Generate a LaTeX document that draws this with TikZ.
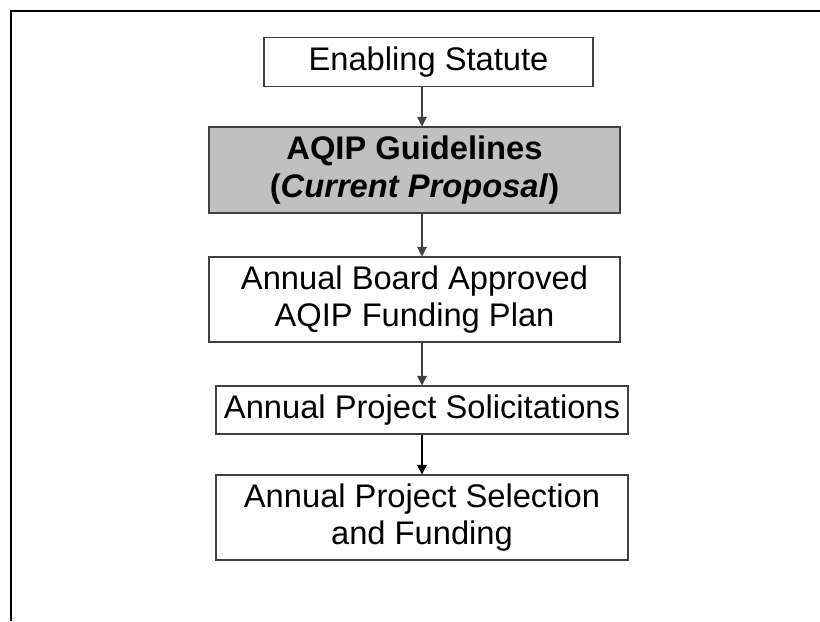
\documentclass[tikz,border=0pt]{standalone}
\usepackage{fontspec}
\setmainfont{Liberation Sans}
\usepackage{tikz}
\usetikzlibrary{positioning,arrows.meta,calc}
\definecolor{boxgray}{RGB}{192,192,192}

\begin{document}
\begin{tikzpicture}[x=0.2mm, y=-0.2mm,
        flowbox/.style={draw=black!75, line width=0.6pt, align=center, inner sep=0pt,
            font=\fontsize{18.6}{21.2}\selectfont},
        arr/.style={-{Triangle[length=5.5pt,width=5.5pt]}, draw=black!75, line width=0.6pt}]
            \useasboundingbox (0,0) rectangle (820,621);
            \draw[line width=1.2pt] (11,621) -- (11,11) -- (820,11);
            \node[flowbox, minimum width=65.8mm, minimum height=9.8mm] (statute) at (428.5,62) {Enabling Statute};
            \node[flowbox, fill=boxgray, minimum width=82.2mm, minimum height=17.2mm, font=\fontsize{18.6}{21.2}\selectfont\bfseries] (guide) at (414.5,170) {AQIP Guidelines\\(\textit{Current Proposal})};
            \node[flowbox, minimum width=82.2mm, minimum height=17mm] (plan) at (414.5,299.5) {Annual Board Approved\\AQIP Funding Plan};
            \node[flowbox, minimum width=82.4mm, minimum height=9.6mm] (solicit) at (422,410) {Annual Project Solicitations};
            \node[flowbox, minimum width=82.4mm, minimum height=17mm] (select) at (422,517.5) {Annual Project Selection\\and Funding};
            \draw[arr] (statute.south -| solicit) -- (guide.north -| solicit);
            \draw[arr] (guide.south -| solicit) -- (plan.north -| solicit);
            \draw[arr] (plan.south -| solicit) -- (solicit.north);
            \draw[arr, draw=black, line width=0.9pt] (solicit.south) -- (select.north);
        \end{tikzpicture}
\end{document}
